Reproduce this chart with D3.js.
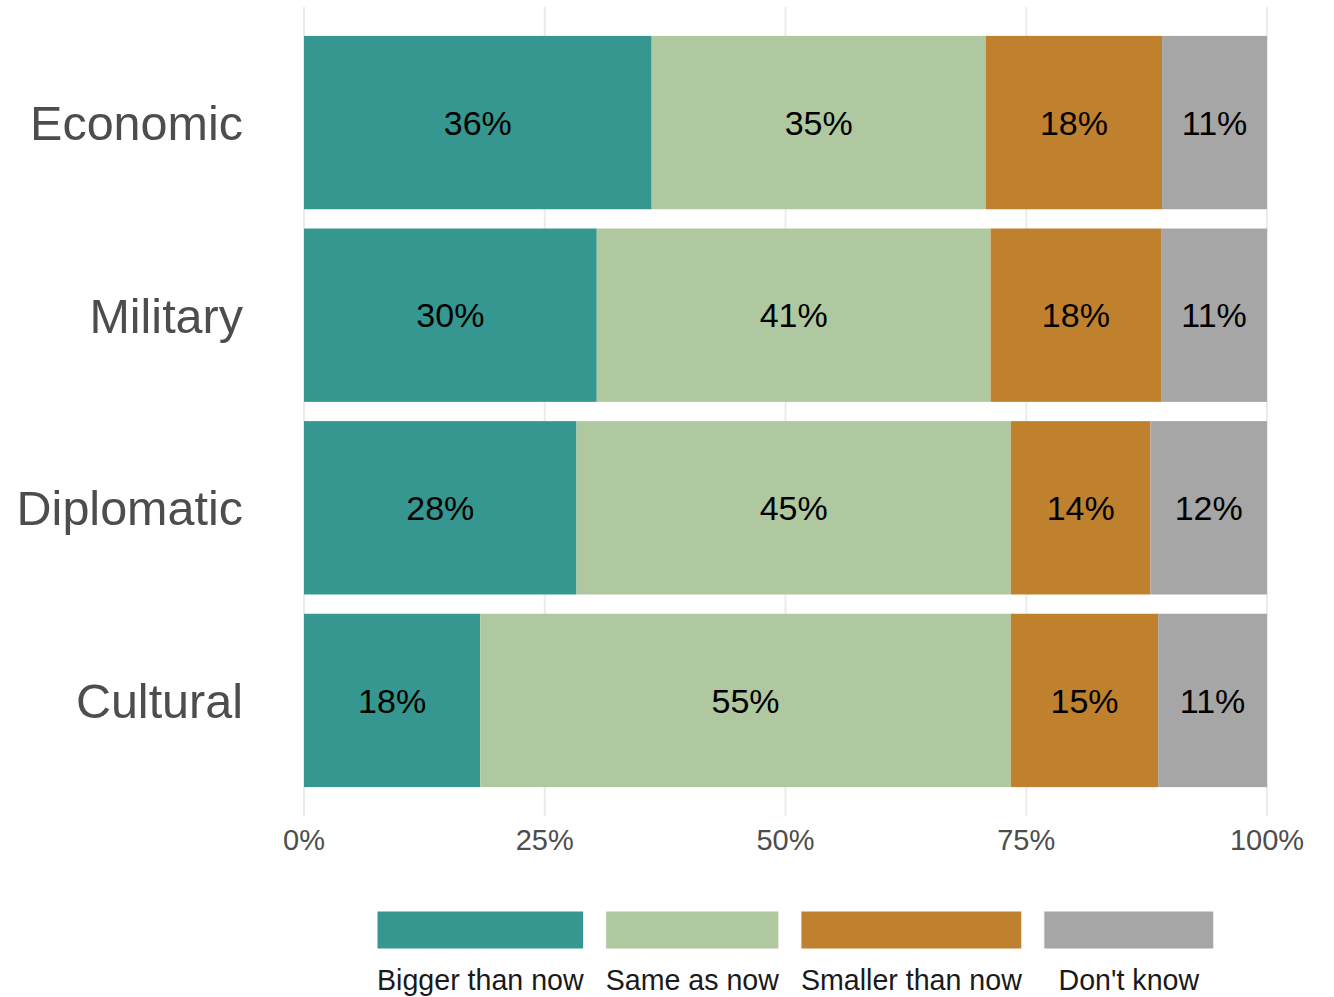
<!DOCTYPE html>
<html><head><meta charset="utf-8">
<script src="https://cdn.jsdelivr.net/npm/d3@7"></script>
<style>body{margin:0;background:#fff}</style>
</head><body><svg id="c" width="1334" height="997"></svg>
<script>
const categories = ["Economic", "Military", "Diplomatic", "Cultural"];
const seriesNames = ["Bigger than now", "Same as now", "Smaller than now", "Don't know"];
const bigger  = [36.1, 30.4, 28.3, 18.3];
const same    = [34.7, 40.9, 45.1, 55.1];
const smaller = [18.3, 17.7, 14.5, 15.3];
const dontKnow= [10.9, 11.0, 12.1, 11.3];
const labelsBigger  = ["36%", "30%", "28%", "18%"];
const labelsSame    = ["35%", "41%", "45%", "55%"];
const labelsSmaller = ["18%", "18%", "14%", "15%"];
const labelsDK      = ["11%", "11%", "12%", "11%"];
const ticks = [0, 25, 50, 75, 100];
const tickLabels = ["0%", "25%", "50%", "75%", "100%"];
const colors = ["#35978f", "#afc8a0", "#bf812d", "#a6a6a6"];

const svg = d3.select("#c");
const font = "'Liberation Sans', Arial, sans-serif";
const x = d3.scaleLinear().domain([0, 100]).range([304, 1267]);
const y = d3.scaleBand().domain(categories).range([7, 816]).paddingInner(0.1).paddingOuter(0.15);

// gridlines
svg.append("g").selectAll("line").data(ticks).join("line")
  .attr("x1", d => x(d)).attr("x2", d => x(d)).attr("y1", 7).attr("y2", 816)
  .attr("stroke", "#ebebeb").attr("stroke-width", 2);

const values = [bigger, same, smaller, dontKnow];
const labels = [labelsBigger, labelsSame, labelsSmaller, labelsDK];
const rows = categories.map((c, i) => {
  let acc = 0; const segs = [];
  values.forEach((arr, s) => { segs.push({cat: c, s, x0: acc, x1: acc + arr[i], label: labels[s][i]}); acc += arr[i]; });
  const tot = acc; segs.forEach(g => { g.x0 = g.x0 / tot * 100; g.x1 = g.x1 / tot * 100; });
  return segs;
}).flat();

svg.append("g").selectAll("rect").data(rows).join("rect")
  .attr("x", d => x(d.x0)).attr("width", d => x(d.x1) - x(d.x0))
  .attr("y", d => y(d.cat)).attr("height", y.bandwidth())
  .attr("fill", d => colors[d.s]);

svg.append("g").selectAll("text").data(rows).join("text")
  .attr("x", d => (x(d.x0) + x(d.x1)) / 2).attr("y", d => y(d.cat) + y.bandwidth() / 2)
  .attr("dy", "0.36em").attr("text-anchor", "middle")
  .style("font-family", font).style("font-size", "34px").attr("fill", "#000")
  .text(d => d.label);

// category labels
svg.append("g").selectAll("text").data(categories).join("text")
  .attr("x", 243).attr("y", d => y(d) + y.bandwidth() / 2).attr("dy", "0.36em")
  .attr("text-anchor", "end").style("font-family", font).style("font-size", "48.5px")
  .attr("fill", "#4d4d4d").text(d => d);

// x tick labels
svg.append("g").selectAll("text").data(ticks).join("text")
  .attr("x", d => x(d)).attr("y", 850).attr("text-anchor", "middle")
  .style("font-family", font).style("font-size", "29px").attr("fill", "#4d4d4d")
  .text((d, i) => tickLabels[i]);

// legend
const lg = svg.append("g");
let lx = 377;
seriesNames.forEach((name, i) => {
  const t = lg.append("text").attr("y", 990).attr("text-anchor", "middle")
    .style("font-family", font).style("font-size", "28.6px").attr("fill", "#1a1a1a").text(name);
  const w = Math.max(t.node().getComputedTextLength(), 170);
  lg.append("rect").attr("x", lx).attr("y", 911).attr("width", w).attr("height", 38)
    .attr("fill", colors[i]).attr("stroke", "#fff").attr("stroke-width", 1);
  t.attr("x", lx + w / 2);
  lx += w + 22;
});
</script></body></html>
